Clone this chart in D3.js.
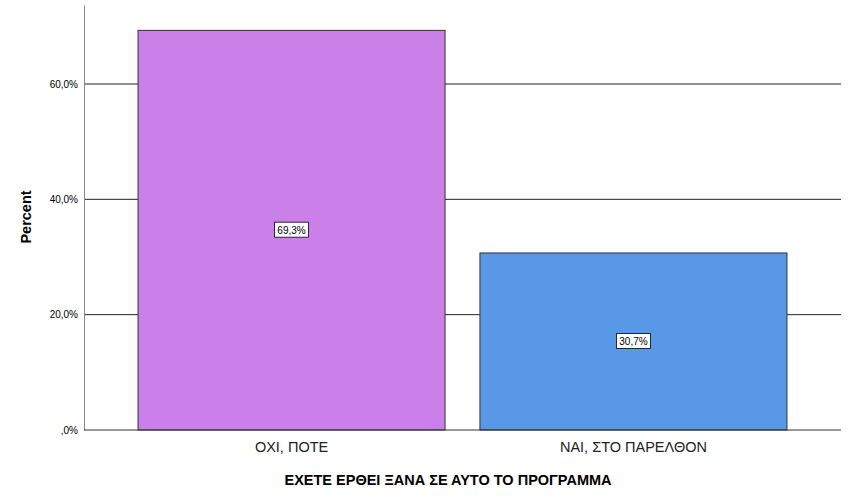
<!DOCTYPE html>
<html><head><meta charset="utf-8">
<script src="https://cdn.jsdelivr.net/npm/d3@7"></script>
<style>body{margin:0;background:#fff}</style></head>
<body><svg id="c" width="851" height="501"></svg>
<script>
const categories = ["ΟΧΙ, ΠΟΤΕ", "ΝΑΙ, ΣΤΟ ΠΑΡΕΛΘΟΝ"];
const values = [69.3, 30.7];
const colors = ["#cb7fe8", "#5898e6"];
const tickValues = [0, 20, 40, 60];
const svg = d3.select("#c");
const L = 84, R = 841, T = 5, B = 430;
const y = d3.scaleLinear().domain([0, 73.7]).range([B, T]);
const x = d3.scaleBand().domain(categories).range([L, R]).paddingInner(0.102).paddingOuter(0.158);
const fmt = v => (v === 0 ? ",0" : d3.format(".1f")(v).replace(".", ",")) + "%";
svg.append("g").selectAll("line").data(tickValues.filter(d => d > 0)).join("line")
  .attr("x1", L).attr("x2", R).attr("y1", d => y(d)).attr("y2", d => y(d))
  .attr("stroke", "#222").attr("stroke-width", 1);
svg.append("g").attr("transform", `translate(${L},0)`)
  .call(d3.axisLeft(y).tickValues(tickValues).tickSize(0).tickPadding(6).tickFormat(fmt))
  .call(g => { g.select(".domain").attr("stroke", "#888"); g.selectAll("text").attr("font-family", "Arial, Liberation Sans").attr("font-size", 10).attr("fill", "#000"); });
svg.append("g").selectAll("rect").data(values).join("rect")
  .attr("x", (d, i) => x(categories[i])).attr("width", x.bandwidth())
  .attr("y", d => y(d)).attr("height", d => B - y(d))
  .attr("fill", (d, i) => colors[i]).attr("stroke", "#333").attr("stroke-width", 1);
svg.append("line").attr("x1", L).attr("x2", R).attr("y1", B).attr("y2", B).attr("stroke", "#333");
const lab = svg.append("g").selectAll("g").data(values).join("g")
  .attr("transform", (d, i) => `translate(${x(categories[i]) + x.bandwidth() / 2},${(y(d) + B) / 2})`);
lab.append("rect").attr("x", -17).attr("y", -8).attr("width", 34).attr("height", 15).attr("fill", "#fff").attr("stroke", "#000").attr("stroke-width", 0.8);
lab.append("text").attr("text-anchor", "middle").attr("y", 4).attr("font-family", "Arial, Liberation Sans").attr("font-size", 10).text(d => fmt(d));
svg.append("g").selectAll("text").data(categories).join("text")
  .attr("x", d => x(d) + x.bandwidth() / 2).attr("y", 452).attr("text-anchor", "middle")
  .attr("font-family", "Arial, Liberation Sans").attr("font-size", 14.5).attr("fill", "#222").text(d => d);
svg.append("text").attr("x", 448).attr("y", 485).attr("text-anchor", "middle")
  .attr("font-family", "Arial, Liberation Sans").attr("font-size", 14.5).attr("font-weight", "bold").text("ΕΧΕΤΕ ΕΡΘΕΙ ΞΑΝΑ ΣΕ ΑΥΤΟ ΤΟ ΠΡΟΓΡΑΜΜΑ");
svg.append("text").attr("transform", "translate(31,217) rotate(-90)").attr("text-anchor", "middle")
  .attr("font-family", "Arial, Liberation Sans").attr("font-size", 14.5).attr("font-weight", "bold").text("Percent");
</script></body></html>
